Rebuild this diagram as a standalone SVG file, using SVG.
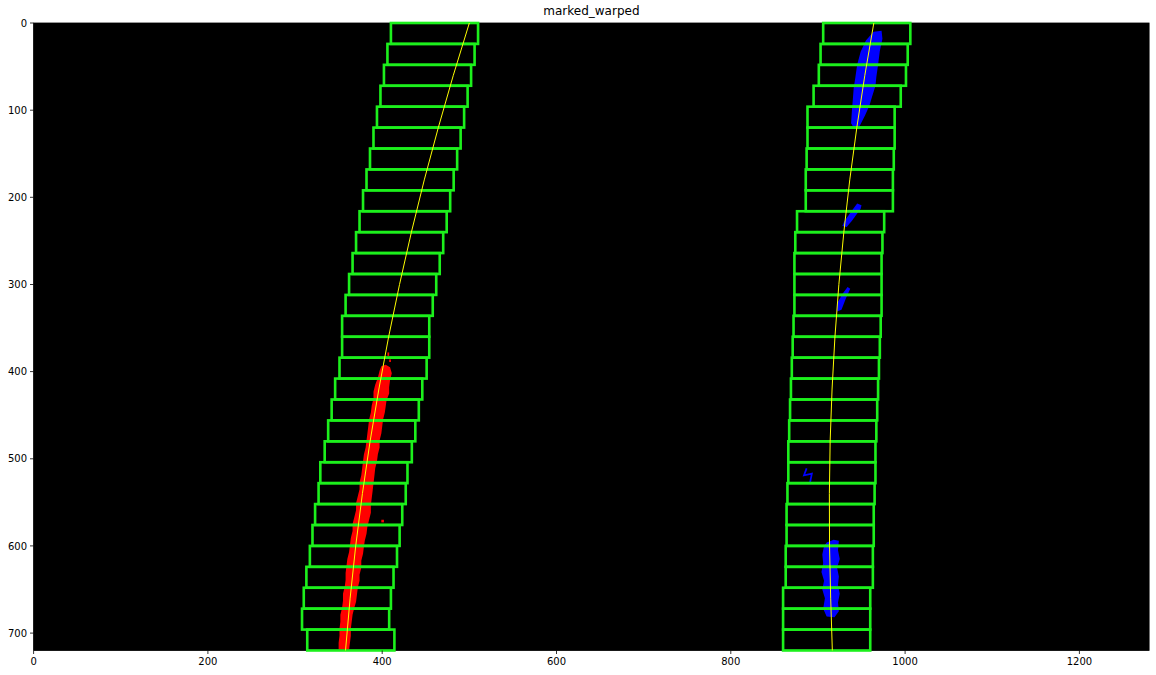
<svg xmlns="http://www.w3.org/2000/svg" width="1156" height="675" viewBox="0 0 1156 675">
<defs>
<style>
.t{font-family:"DejaVu Sans","Liberation Sans",sans-serif;font-size:10px;fill:#000}
.tt{font-family:"DejaVu Sans","Liberation Sans",sans-serif;font-size:12px;fill:#000}
.tick{stroke:#000;stroke-width:0.8}
.win rect{fill:none;stroke:#1cf01c;stroke-width:3}
.fit{fill:none;stroke:#ffff00;stroke-width:1;vector-effect:non-scaling-stroke}
.red{fill:#ff0000}
.blue{fill:#0000ff}
</style>
</defs>
<rect x="0" y="0" width="1156" height="675" fill="#ffffff"/>
<text class="tt" x="591.4" y="15" text-anchor="middle">marked_warped</text>
<rect x="33.6" y="23" width="1115.5" height="627.5" fill="#000000" stroke="#000" stroke-width="0.8"/>
<g id="plot" transform="translate(33.6,23) scale(0.8715)">
<g id="left-pixels">
<polygon class="red" points="399,394 404,392 409,395 411,402 409,410 408,418 408,425 405,433 404,440 403,447 401,455 400,463 399,471 397,479 397,487 395,495 394,503 392,511 391,520 390,528 389,537 388,545 387,553 387,562 385,570 383,578 382,586 380,594 379,601 378,609 376,617 376,625 374,633 374,640 372,648 371,656 370,664 368,671 366,679 365,687 364,695 364,703 363,711 362,719 350,719 350,711 351,703 351,695 352,687 352,679 354,671 355,663 355,655 357,647 358,639 358,631 359,623 360,615 362,607 363,599 364,591 366,583 366,575 368,567 370,559 370,551 372,543 374,535 374,527 376,519 377,511 378,503 379,495 381,487 382,479 383,471 384,463 385,455 387,447 388,439 390,431 390,423 392,415 395,407 397,399"/>
<rect class="red" x="406" y="378" width="2" height="4"/>
<rect class="red" x="408" y="386" width="2" height="3"/>
<rect class="red" x="399" y="570" width="3" height="3"/>
</g>
<g id="right-pixels">
<polygon class="blue" points="964,10 973,9 974,18 971,32 969,48 967,62 966,72 962,85 959,95 954,106 948,118 942,122 938,115 939,100 940,88 941,75 943,62 945,48 949,33 955,20 962,12"/>
<polygon class="blue" points="945,207 950,209 949,213 939,227 933,234 928,233 930,228 937,218 942,211"/>
<polygon class="blue" points="934,303 937,305 932,316 927,329 922,331 922,322 928,311"/>
<path d="M887,511 L884,519 L893,517 L891,527" fill="none" stroke="#0000ff" stroke-width="2"/>
<polygon class="blue" points="910,596 918,593 924,594 923,605 925,615 922,625 924,635 923,645 925,655 923,665 924,675 919,682 910,681 906,672 908,660 905,650 907,640 904,630 906,620 905,610 907,600"/>
</g>
<g id="left-windows" class="win">
<rect x="410" y="0" width="100" height="24"/>
<rect x="406" y="24" width="100" height="24"/>
<rect x="402" y="48" width="100" height="24"/>
<rect x="398" y="72" width="100" height="24"/>
<rect x="394" y="96" width="100" height="24"/>
<rect x="390" y="120" width="100" height="24"/>
<rect x="386" y="144" width="100" height="24"/>
<rect x="382" y="168" width="100" height="24"/>
<rect x="378" y="192" width="100" height="24"/>
<rect x="374" y="216" width="100" height="24"/>
<rect x="370" y="240" width="100" height="24"/>
<rect x="366" y="264" width="100" height="24"/>
<rect x="362" y="288" width="100" height="24"/>
<rect x="358" y="312" width="100" height="24"/>
<rect x="354" y="336" width="100" height="24"/>
<rect x="354" y="360" width="100" height="24"/>
<rect x="351" y="384" width="100" height="24"/>
<rect x="346" y="408" width="100" height="24"/>
<rect x="342" y="432" width="100" height="24"/>
<rect x="338" y="456" width="100" height="24"/>
<rect x="334" y="480" width="100" height="24"/>
<rect x="329" y="504" width="100" height="24"/>
<rect x="327" y="528" width="100" height="24"/>
<rect x="323" y="552" width="100" height="24"/>
<rect x="320" y="576" width="100" height="24"/>
<rect x="317" y="600" width="100" height="24"/>
<rect x="313" y="624" width="100" height="24"/>
<rect x="310" y="648" width="100" height="24"/>
<rect x="308" y="672" width="100" height="24"/>
<rect x="314" y="696" width="100" height="24"/>
</g>
<g id="right-windows" class="win">
<rect x="906" y="0" width="100" height="24"/>
<rect x="903" y="24" width="100" height="24"/>
<rect x="901" y="48" width="100" height="24"/>
<rect x="895" y="72" width="100" height="24"/>
<rect x="888" y="96" width="100" height="24"/>
<rect x="888" y="120" width="100" height="24"/>
<rect x="887" y="144" width="100" height="24"/>
<rect x="886" y="168" width="100" height="24"/>
<rect x="886" y="192" width="100" height="24"/>
<rect x="876" y="216" width="100" height="24"/>
<rect x="874" y="240" width="100" height="24"/>
<rect x="873" y="264" width="100" height="24"/>
<rect x="873" y="288" width="100" height="24"/>
<rect x="873" y="312" width="100" height="24"/>
<rect x="872" y="336" width="100" height="24"/>
<rect x="871" y="360" width="100" height="24"/>
<rect x="870" y="384" width="100" height="24"/>
<rect x="869" y="408" width="100" height="24"/>
<rect x="868" y="432" width="100" height="24"/>
<rect x="867" y="456" width="100" height="24"/>
<rect x="866" y="480" width="100" height="24"/>
<rect x="866" y="504" width="100" height="24"/>
<rect x="865" y="528" width="100" height="24"/>
<rect x="864" y="552" width="100" height="24"/>
<rect x="864" y="576" width="100" height="24"/>
<rect x="863" y="600" width="100" height="24"/>
<rect x="863" y="624" width="100" height="24"/>
<rect x="860" y="648" width="100" height="24"/>
<rect x="860" y="672" width="100" height="24"/>
<rect x="860" y="696" width="100" height="24"/>
</g>
<g id="fit-lines">
<polyline class="fit" points="500,0 481.6,60 464.4,120 448.3,180 433.5,240 419.9,300 407.4,360 396.2,420 386.1,480 377.3,540 369.6,600 363.2,660 357.9,720"/>
<polyline class="fit" points="964.1,0 953.8,60 944.6,120 936.5,180 929.7,240 924,300 919.5,360 916.2,420 914,480 913.1,540 913.3,600 914.6,660 916.5,720"/>
</g>
</g>
<g id="axes">
<g class="tick">
<line x1="30" y1="23" x2="33.6" y2="23"/>
<line x1="30" y1="110.2" x2="33.6" y2="110.2"/>
<line x1="30" y1="197.3" x2="33.6" y2="197.3"/>
<line x1="30" y1="284.5" x2="33.6" y2="284.5"/>
<line x1="30" y1="371.6" x2="33.6" y2="371.6"/>
<line x1="30" y1="458.8" x2="33.6" y2="458.8"/>
<line x1="30" y1="545.9" x2="33.6" y2="545.9"/>
<line x1="30" y1="633.1" x2="33.6" y2="633.1"/>
<line x1="33.6" y1="650.5" x2="33.6" y2="654"/>
<line x1="207.9" y1="650.5" x2="207.9" y2="654"/>
<line x1="382.2" y1="650.5" x2="382.2" y2="654"/>
<line x1="556.5" y1="650.5" x2="556.5" y2="654"/>
<line x1="730.8" y1="650.5" x2="730.8" y2="654"/>
<line x1="905.1" y1="650.5" x2="905.1" y2="654"/>
<line x1="1079.4" y1="650.5" x2="1079.4" y2="654"/>
</g>
<g class="t" text-anchor="end">
<text x="27" y="26.6">0</text>
<text x="27" y="113.8">100</text>
<text x="27" y="200.9">200</text>
<text x="27" y="288.1">300</text>
<text x="27" y="375.2">400</text>
<text x="27" y="462.4">500</text>
<text x="27" y="549.5">600</text>
<text x="27" y="636.7">700</text>
</g>
<g class="t" text-anchor="middle">
<text x="33.6" y="665">0</text>
<text x="207.9" y="665">200</text>
<text x="382.2" y="665">400</text>
<text x="556.5" y="665">600</text>
<text x="730.8" y="665">800</text>
<text x="905.1" y="665">1000</text>
<text x="1079.4" y="665">1200</text>
</g>
</g>
</svg>
